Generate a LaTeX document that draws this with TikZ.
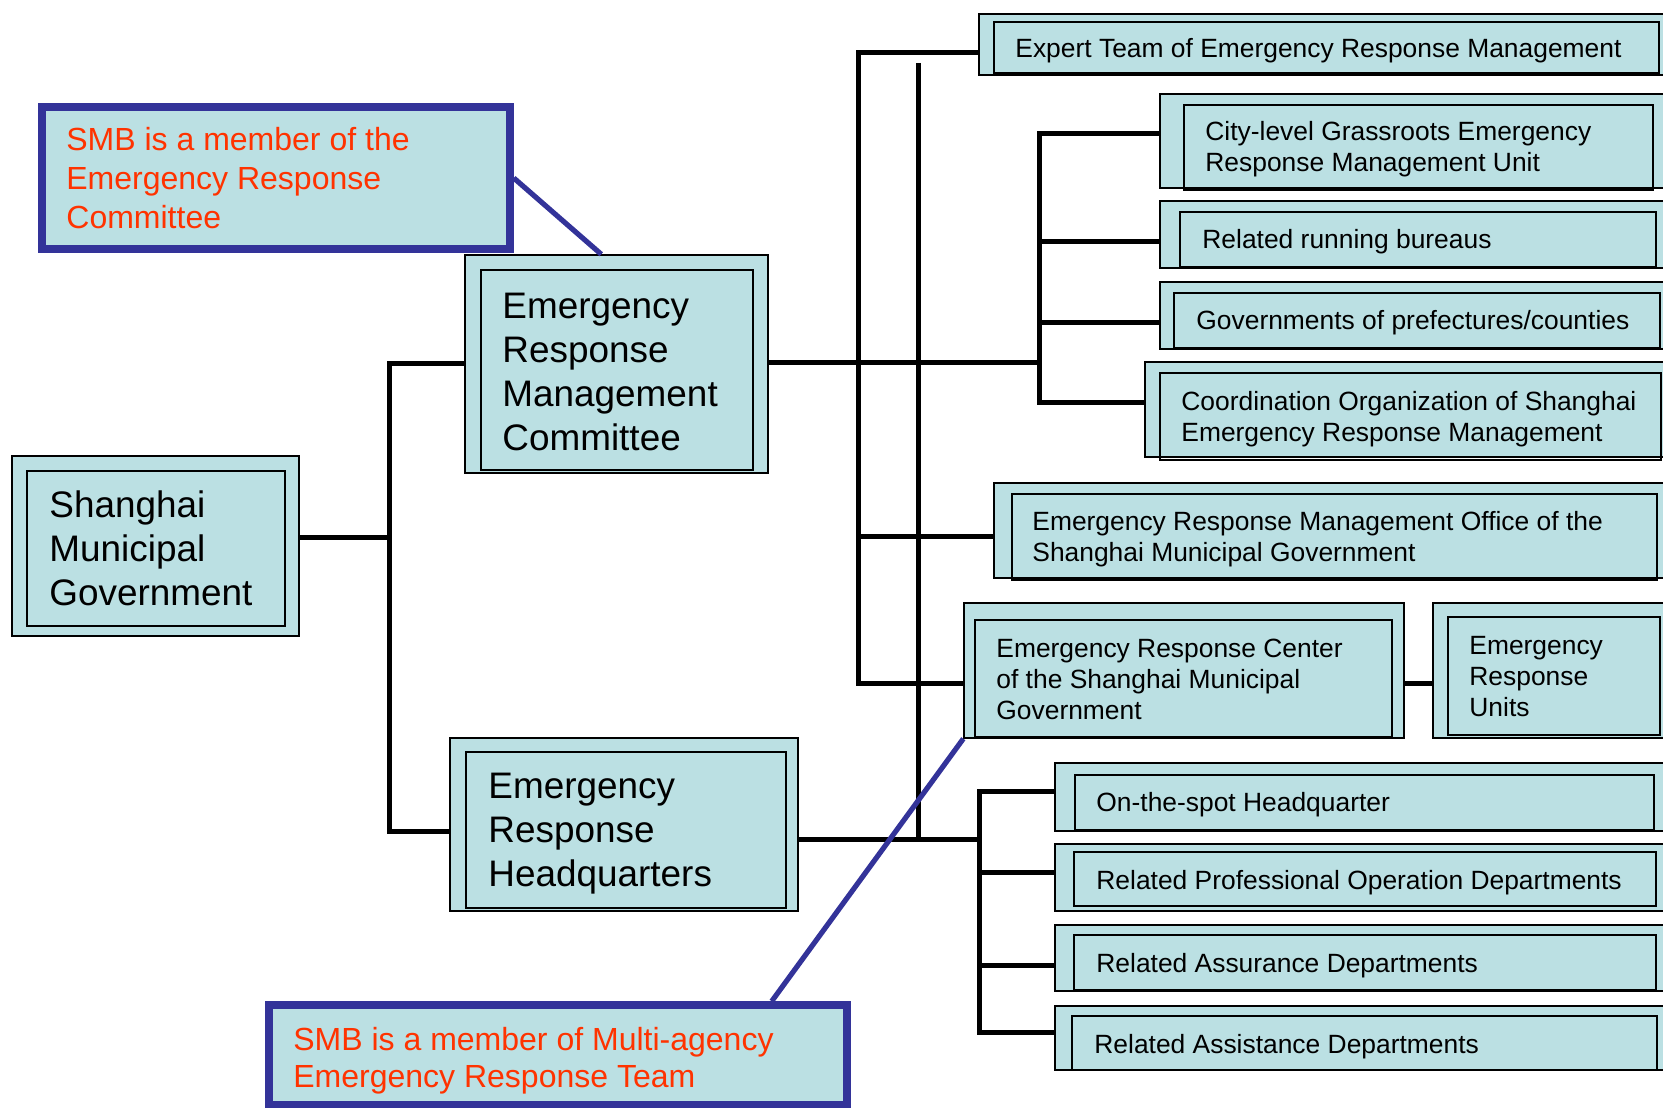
\documentclass[tikz,border=0pt]{standalone}
\usepackage{fontspec}
\setmainfont{Liberation Sans}
\usetikzlibrary{fit,calc}
\definecolor{boxfill}{HTML}{BBE0E3}
\definecolor{callblue}{HTML}{333399}
\definecolor{callred}{HTML}{FF3300}
\begin{document}
\begin{tikzpicture}[x=0.5pt,y=-0.5pt,
  obox/.style={draw=black, line width=0.7pt, fill=boxfill, inner sep=0pt},
  ibox/.style={draw=black, line width=0.9pt, inner sep=0pt},
  txtbase/.style={align=left, inner sep=0pt, anchor=base west},
  sm/.style={txtbase, font=\fontsize{13.2pt}{15.5pt}\selectfont},
  bg/.style={txtbase, font=\fontsize{18.45pt}{22pt}\selectfont},
  co/.style={txtbase, text=callred, font=\fontsize{16pt}{#1}\selectfont},
  conn/.style={draw=black, line width=2.5pt, line join=miter},
  callout/.style={draw=callblue, line width=3.75pt, fill=boxfill, inner sep=0pt},
  cline/.style={draw=callblue, line width=2.6pt}]
\useasboundingbox (0,0) rectangle (1663,1107);
\clip (0,0) rectangle (1663,1107);

% ---------- boxes (text anchored at the baseline of the last line) ----------
\node[obox, fit={(979,14)(1668,75)}] (expert) {};
\node[ibox, fit={(994,22)(1659,73)}] (expert-in) {};
\node[sm] (expert-t) at (1015,58) {Expert Team of Emergency Response Management};

\node[obox, fit={(1160,94)(1668,188)}] (city) {};
\node[ibox, fit={(1184,105)(1653,190)}] (city-in) {};
\node[sm] (city-t) at (1205,172) {City-level Grassroots Emergency\\Response Management Unit};

\node[obox, fit={(1160,201)(1668,268)}] (related) {};
\node[ibox, fit={(1180,212)(1656,267)}] (related-in) {};
\node[sm] (related-t) at (1202,249) {Related running bureaus};

\node[obox, fit={(1160,282)(1668,349)}] (gov) {};
\node[ibox, fit={(1174,293)(1660,348)}] (gov-in) {};
\node[sm] (gov-t) at (1196,329) {Governments of prefectures/counties};

\node[obox, fit={(1145,362)(1668,457)}] (coord) {};
\node[ibox, fit={(1160,373)(1661,460)}] (coord-in) {};
\node[sm] (coord-t) at (1181,441) {Coordination Organization of Shanghai\\Emergency Response Management};

\node[obox, fit={(994,483)(1668,578)}] (ermo) {};
\node[ibox, fit={(1012,494)(1657,580)}] (ermo-in) {};
\node[sm] (ermo-t) at (1032,561) {Emergency Response Management Office of the\\Shanghai Municipal Government};

\node[obox, fit={(964,603)(1404,738)}] (erc) {};
\node[ibox, fit={(975,620)(1392,737)}] (erc-in) {};
\node[sm] (erc-t) at (996,719) {Emergency Response Center\\of the Shanghai Municipal\\Government};

\node[obox, fit={(1433,603)(1668,738)}] (eru) {};
\node[ibox, fit={(1448,617)(1660,735)}] (eru-in) {};
\node[sm] (eru-t) at (1469,716) {Emergency\\Response\\Units};

\node[obox, fit={(1055,763)(1668,831)}] (ots) {};
\node[ibox, fit={(1075,775)(1654,830)}] (ots-in) {};
\node[sm] (ots-t) at (1096,811) {On-the-spot Headquarter};

\node[obox, fit={(1055,844)(1668,911)}] (rpod) {};
\node[ibox, fit={(1074,852)(1656,906)}] (rpod-in) {};
\node[sm] (rpod-t) at (1096,889) {Related Professional Operation Departments};

\node[obox, fit={(1055,925)(1668,991)}] (assur) {};
\node[ibox, fit={(1074,935)(1656,990)}] (assur-in) {};
\node[sm] (assur-t) at (1096,972) {Related Assurance Departments};

\node[obox, fit={(1055,1006)(1668,1070)}] (assist) {};
\node[ibox, fit={(1072,1016)(1657,1070)}] (assist-in) {};
\node[sm] (assist-t) at (1094,1053) {Related Assistance Departments};

\node[obox, fit={(465,255)(768,473)}] (ermc) {};
\node[ibox, fit={(481,270)(753,470)}] (ermc-in) {};
\node[bg] (ermc-t) at (502,450) {Emergency\\Response\\Management\\Committee};

\node[obox, fit={(12,456)(299,636)}] (smg) {};
\node[ibox, fit={(27,471)(285,626)}] (smg-in) {};
\node[bg] (smg-t) at (49,605) {Shanghai\\Municipal\\Government};

\node[obox, fit={(450,738)(798,911)}] (erh) {};
\node[ibox, fit={(466,752)(786,908)}] (erh-in) {};
\node[bg] (erh-t) at (488,886) {Emergency\\Response\\Headquarters};

\node[callout, fit={(42,107)(510,249)}] (c1) {};
\node[co=19.3pt] (c1-t) at (66,228) {SMB is a member of the\\Emergency Response\\Committee};

\node[callout, fit={(269,1005)(847,1105)}] (c2) {};
\node[co=18.5pt] (c2-t) at (293,1087) {SMB is a member of Multi-agency\\Emergency Response Team};

% ---------- connectors ----------
\coordinate (jA) at (389,537);
\coordinate (v1t) at (389,363);
\coordinate (v1b) at (389,831);
\draw[conn] (smg.east |- jA) -- (jA);
\draw[conn] (ermc.west |- v1t) -- (v1t) -- (v1b) -- (erh.west |- v1b);

\coordinate (cT) at (1039,134);
\coordinate (cR) at (1039,241);
\coordinate (cG) at (1039,322);
\coordinate (cM) at (1039,362);
\coordinate (cB) at (1039,402);
\draw[conn] (ermc.east |- cM) -- (cM);
\draw[conn] (city.west |- cT) -- (cT) -- (cB) -- (coord.west |- cB);
\draw[conn] (cR) -- (related.west |- cR);
\draw[conn] (cG) -- (gov.west |- cG);

\coordinate (aT) at (858,53);
\coordinate (aM) at (858,536);
\coordinate (aB) at (858,683);
\draw[conn] (expert.west |- aT) -- (aT) -- (aB) -- (erc.west |- aB);
\draw[conn] (aM) -- (ermo.west |- aM);
\draw[conn] (erc.east |- aB) -- (eru.west |- aB);

\coordinate (bT) at (918,63);
\coordinate (bB) at (918,839);
\draw[conn] (bT) -- (bB);

\coordinate (dM) at (979,839);
\coordinate (dT) at (979,791);
\coordinate (d2) at (979,872);
\coordinate (d3) at (979,965);
\coordinate (dB) at (979,1032);
\draw[conn] (erh.east |- dM) -- (dM);
\draw[conn] (ots.west |- dT) -- (dT) -- (dB) -- (assist.west |- dB);
\draw[conn] (d2) -- (rpod.west |- d2);
\draw[conn] (d3) -- (assur.west |- d3);

% ---------- callout pointers ----------
\draw[cline] (c1.east) -- ($(ermc.north west)!0.45!(ermc.north east)$);
\draw[cline] ($(c2.north west)!0.865!(c2.north east)$) -- (erc.south west);
\end{tikzpicture}
\end{document}
